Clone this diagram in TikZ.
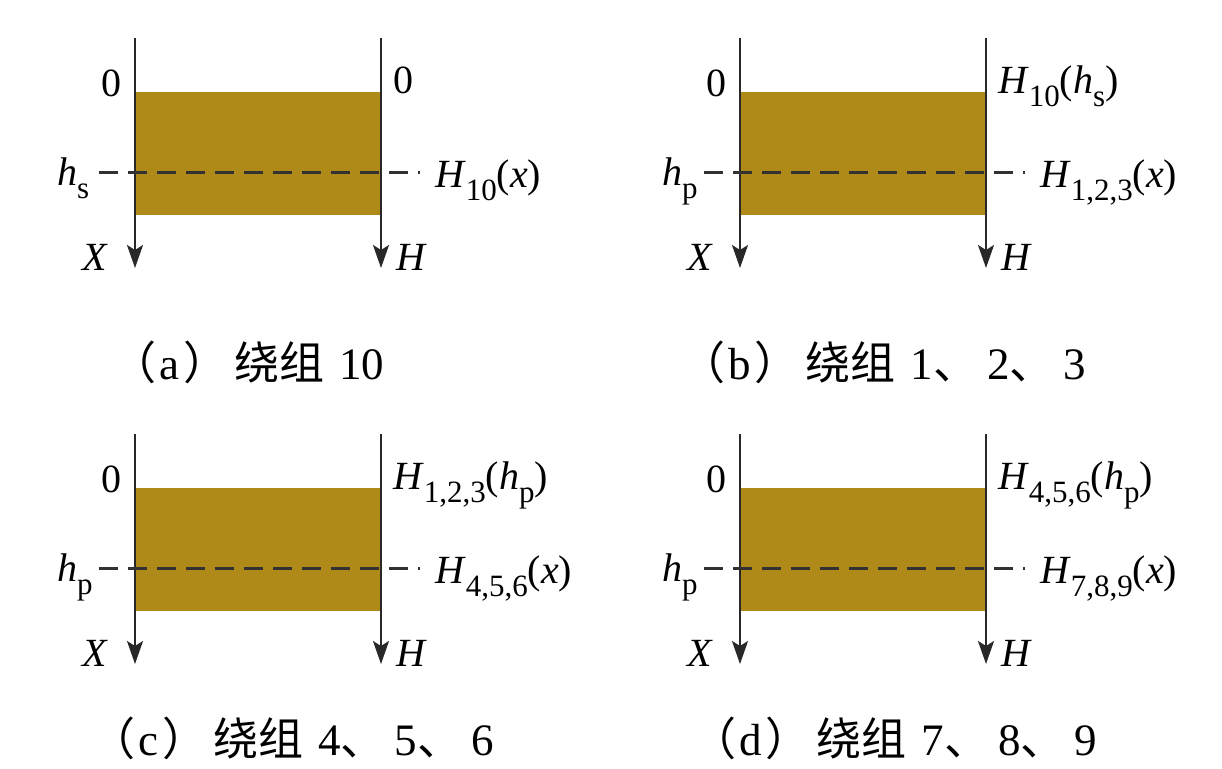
\documentclass[tikz,border=0pt]{standalone}
\usepackage{fontspec}
\setmainfont{Liberation Serif}
\newfontfamily\cjkfont{Noto Sans CJK SC}
\newcommand{\zh}[1]{{\cjkfont #1}}
\newcommand{\dun}{\zh{、}\hspace{9pt}}
\newcommand{\capl}[1]{\zh{（}\hspace{3pt}#1\hspace{4pt}\zh{）}\hspace{6pt}\zh{绕组}\hspace{4pt} }
\usetikzlibrary{arrows.meta}
\definecolor{coil}{RGB}{176,138,24}
\definecolor{axisgray}{RGB}{40,40,40}
\definecolor{dashgray}{RGB}{50,50,50}
\newcommand{\lsub}[1]{\raisebox{-13pt}{\fontsize{31}{31}\selectfont #1}}
\tikzset{
  lbl/.style={inner sep=0pt, font=\fontsize{40}{41}\selectfont},
  captxt/.style={inner sep=0pt, font=\fontsize{45}{47}\selectfont},
  axisline/.style={draw=axisgray, line width=2pt, -{Stealth[length=23pt,width=16pt,inset=5pt]}},
  dashline/.style={draw=dashgray, line width=3pt, dash pattern=on 19pt off 10pt},
  coilfill/.style={fill=coil}
}
\newcommand{\panel}[6]{%
\begin{scope}[shift={(#1,#2)}]
  \fill[coilfill] (135,92) rectangle (381,215);
  \coordinate (#3lt) at (135,38);
  \coordinate (#3lb) at (135,268);
  \coordinate (#3rt) at (381,38);
  \coordinate (#3rb) at (381,268);
  \draw[axisline] (#3lt) -- (#3lb);
  \draw[axisline] (#3rt) -- (#3rb);
  \coordinate (#3dl) at (99,172);
  \coordinate (#3dr) at (420,172);
  \draw[dashline] (#3dl) -- (#3dr);
  \node[lbl, anchor=base east] (#3zero) at (122,96) {0};
  \node[lbl, anchor=base west] (#3hl) at (57,185) {#4};
  \node[lbl, anchor=base west] (#3top) at (393,93) {#5};
  \node[lbl, anchor=base west] (#3hr) at (435,187) {#6};
  \node[lbl, anchor=base east] (#3X) at (108,270) {\textit{X}};
  \node[lbl, anchor=base west] (#3H) at (396,270) {\textit{H}};
\end{scope}}
\begin{document}
\begin{tikzpicture}[x=1pt,y=-1pt]
\useasboundingbox (0,0) rectangle (1222,768);
\panel{0}{0}{a}{\textit{h}\lsub{s}}{0}{\textit{H}\lsub{10}(\textit{x})}
\panel{605}{0}{b}{\textit{h}\lsub{p}}{\textit{H}\lsub{10}(\textit{h}\lsub{s})}{\textit{H}\lsub{1,2,3}(\textit{x})}
\panel{0}{396}{c}{\textit{h}\lsub{p}}{\textit{H}\lsub{1,2,3}(\textit{h}\lsub{p})}{\textit{H}\lsub{4,5,6}(\textit{x})}
\panel{605}{396}{d}{\textit{h}\lsub{p}}{\textit{H}\lsub{4,5,6}(\textit{h}\lsub{p})}{\textit{H}\lsub{7,8,9}(\textit{x})}
\node[captxt, anchor=base west] (capa) at (111,379) {\capl{a}10};
\node[captxt, anchor=base west] (capb) at (680,379) {\capl{b}1\dun 2\dun 3};
\node[captxt, anchor=base west] (capc) at (90,755) {\capl{c}4\dun 5\dun 6};
\node[captxt, anchor=base west] (capd) at (691,755) {\capl{d}7\dun 8\dun 9};
\end{tikzpicture}
\end{document}
